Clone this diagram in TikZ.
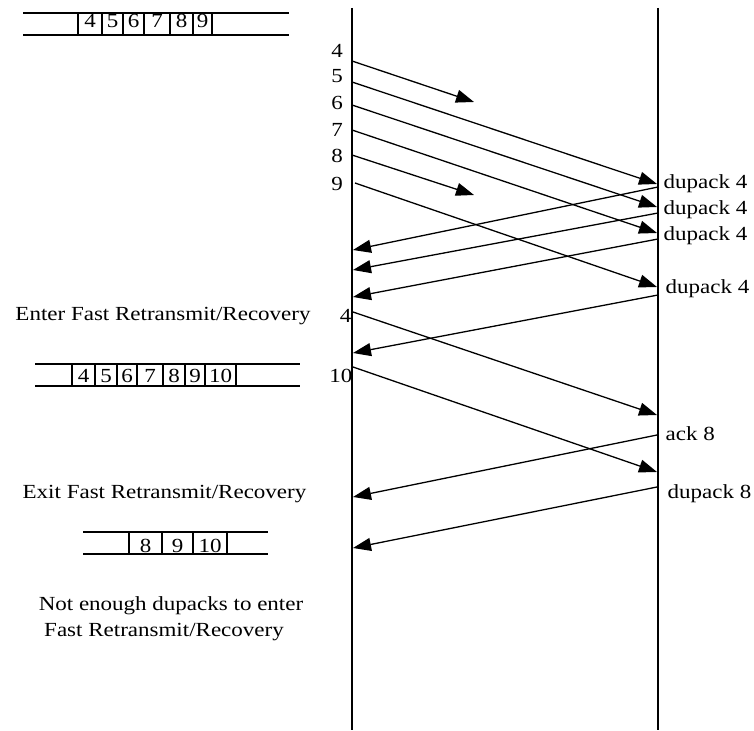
\documentclass[tikz,border=0pt]{standalone}
\usepackage{fontspec}
\setmainfont{Liberation Serif}[FakeStretch=1.15]
\usetikzlibrary{arrows.meta}
\begin{document}
\begin{tikzpicture}[x=1pt,y=-1pt,line width=1.3pt,
  msg/.style={-{Triangle[length=18pt,width=13pt]}},
  lbl/.style={anchor=base,inner sep=0pt,font=\fontsize{20}{24}\selectfont},
  lbll/.style={lbl,anchor=base west},
  lblr/.style={lbl,anchor=base east}]
\useasboundingbox (0,0) rectangle (754,730);
% time lines
\coordinate (LT) at (352,8); \coordinate (LB) at (352,730);
\coordinate (RT) at (658,8); \coordinate (RB) at (658,730);
\draw (LT) -- (LB);
\draw (RT) -- (RB);
% top buffer
\draw (23,13) -- (289,13) (23,35) -- (289,35);
\foreach \x in {78,102,123,144,170,193,212} \draw (\x,13) -- (\x,35);
\node[lbl] (b1a) at (90,28) {4};
\node[lbl] (b1b) at (112.5,28) {5};
\node[lbl] (b1c) at (133.5,28) {6};
\node[lbl] (b1d) at (157,28) {7};
\node[lbl] (b1e) at (181.5,28) {8};
\node[lbl] (b1f) at (202.5,28) {9};
% sequence labels
\node[lbl] (n4) at (337,58) {4};
\node[lbl] (n5) at (337,83) {5};
\node[lbl] (n6) at (337,110) {6};
\node[lbl] (n7) at (337,137) {7};
\node[lbl] (n8) at (337,163) {8};
\node[lbl] (n9) at (337,190) {9};
% data segments
\coordinate (s4) at (352,61);  \coordinate (e4) at (474,102);
\coordinate (s5) at (352,82);  \coordinate (e5) at (657,184);
\coordinate (s6) at (352,105); \coordinate (e6) at (657,207);
\coordinate (s7) at (352,130); \coordinate (e7) at (657,233);
\coordinate (s8) at (352,155); \coordinate (e8) at (474,195);
\coordinate (s9) at (355,183); \coordinate (e9) at (657,287);
\draw[msg] (s4) -- (e4);
\draw[msg] (s5) -- (e5);
\draw[msg] (s6) -- (e6);
\draw[msg] (s7) -- (e7);
\draw[msg] (s8) -- (e8);
\draw[msg] (s9) -- (e9);
% dupacks
\node[lbll] (d1) at (663,189) {dupack 4};
\node[lbll] (d2) at (663,214) {dupack 4};
\node[lbll] (d3) at (663,240) {dupack 4};
\node[lbll] (d4) at (665,293) {dupack 4};
\coordinate (ds1) at (658,187); \coordinate (de1) at (353,250);
\coordinate (ds2) at (658,213); \coordinate (de2) at (353,270);
\coordinate (ds3) at (658,239); \coordinate (de3) at (353,297);
\coordinate (ds4) at (658,295); \coordinate (de4) at (353,353);
\draw[msg] (ds1) -- (de1);
\draw[msg] (ds2) -- (de2);
\draw[msg] (ds3) -- (de3);
\draw[msg] (ds4) -- (de4);
% enter fast retransmit
\node[lbl] (enter) at (163,320) {Enter Fast Retransmit/Recovery};
\node[lblr] (r4) at (352,322) {4};
\coordinate (rs4) at (353,312); \coordinate (re4) at (657,415);
\draw[msg] (rs4) -- (re4);
% second buffer
\draw (35,364) -- (300,364) (35,386) -- (300,386);
\foreach \x in {72,95,117,137,163,185,205,236} \draw (\x,364) -- (\x,386);
\node[lbl] (b2a) at (83.5,382) {4};
\node[lbl] (b2b) at (106,382) {5};
\node[lbl] (b2c) at (127,382) {6};
\node[lbl] (b2d) at (150,382) {7};
\node[lbl] (b2e) at (174,382) {8};
\node[lbl] (b2f) at (195,382) {9};
\node[lbl] (b2g) at (220.5,382) {10};
\node[lblr] (n10) at (353,382) {10};
\coordinate (s10) at (353,367); \coordinate (e10) at (657,472);
\draw[msg] (s10) -- (e10);
% ack 8 and dupack 8
\node[lbll] (a8) at (665,440) {ack 8};
\node[lbll] (da8) at (667,498) {dupack 8};
\coordinate (as8) at (657,435); \coordinate (ae8) at (353,497);
\coordinate (ds8) at (657,487); \coordinate (de8) at (353,548);
\draw[msg] (as8) -- (ae8);
\draw[msg] (ds8) -- (de8);
% exit
\node[lbl] (exit) at (164.5,498) {Exit Fast Retransmit/Recovery};
% third buffer
\draw (83,532) -- (268,532) (83,554) -- (268,554);
\foreach \x in {129,162,193,227} \draw (\x,532) -- (\x,554);
\node[lbl] (b3a) at (145.5,552) {8};
\node[lbl] (b3b) at (177.5,552) {9};
\node[lbl] (b3c) at (210,552) {10};
% note
\node[lbl] (note1) at (171,610) {Not enough dupacks to enter};
\node[lbl] (note2) at (164,636) {Fast Retransmit/Recovery};
\end{tikzpicture}
\end{document}
